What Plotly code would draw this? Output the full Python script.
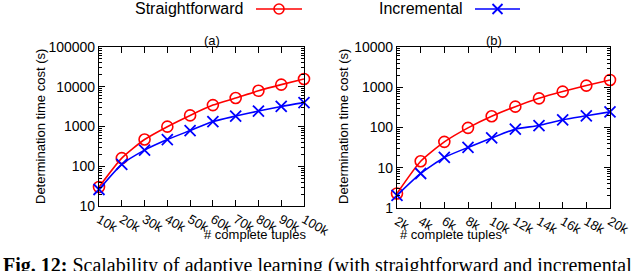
import plotly.graph_objects as go

W, H = 640, 271

# ---- data ----
x_a = [10, 20, 30, 40, 50, 60, 70, 80, 90, 100]
x_a_labels = ["10k", "20k", "30k", "40k", "50k", "60k", "70k", "80k", "90k", "100k"]
straight_a = [30, 160, 470, 990, 1900, 3450, 5200, 7900, 11300, 15700]
incr_a = [26, 112, 255, 470, 790, 1330, 1830, 2450, 3200, 4000]

x_b = [2, 4, 6, 8, 10, 12, 14, 16, 18, 20]
x_b_labels = ["2k", "4k", "6k", "8k", "10k", "12k", "14k", "16k", "18k", "20k"]
straight_b = [2.3, 14.5, 44, 98, 190, 330, 530, 780, 1100, 1520]
incr_b = [2.05, 7.2, 18, 32, 55, 91, 112, 155, 195, 245]

series_names = ["Straightforward", "Incremental"]
panel_titles = ["(a)", "(b)"]
x_title = "# complete tuples"
y_title = "Determination time cost (s)"
caption_bold = "Fig. 12:"
caption_rest = " Scalability of adaptive learning (with straightforward and incremental"

RED = "#ff0000"
BLUE = "#0000ff"
FONT = "Liberation Sans"


def px(x):
    return x / W


def py(y):
    return 1 - y / H


fig = go.Figure()

panels = [
    (x_a, straight_a, incr_a, "x", "y"),
    (x_b, straight_b, incr_b, "x2", "y2"),
]
for xs, s, inc, xa, ya in panels:
    fig.add_trace(go.Scatter(
        x=xs, y=s, xaxis=xa, yaxis=ya, mode="lines+markers",
        line=dict(color=RED, width=1.6, shape="spline", smoothing=0.6),
        marker=dict(symbol="circle-open", size=11, color=RED, line=dict(width=1.6, color=RED)),
        cliponaxis=False, showlegend=False, name=series_names[0]))
    fig.add_trace(go.Scatter(
        x=xs, y=inc, xaxis=xa, yaxis=ya, mode="lines+markers",
        line=dict(color=BLUE, width=1.6, shape="spline", smoothing=0.6),
        marker=dict(symbol="x-thin-open", size=11, color=BLUE, line=dict(width=1.8, color=BLUE)),
        cliponaxis=False, showlegend=False, name=series_names[1]))

axis_common = dict(
    showline=True, linecolor="black", linewidth=1.2, mirror="ticks",
    ticks="inside", ticklen=6, tickcolor="black", tickwidth=1,
    showgrid=False, zeroline=False, automargin=False,
)
xtickfont = dict(family=FONT, size=13, color="black")
ytickfont = dict(family=FONT, size=14, color="black")

fig.update_layout(
    template="none",
    width=W, height=H, margin=dict(l=0, r=0, t=0, b=0, pad=0, autoexpand=False),
    paper_bgcolor="white", plot_bgcolor="white",
    font=dict(family=FONT, color="black"),
    xaxis=dict(domain=[px(99), px(304)], range=[10, 100], tickvals=x_a,
               ticktext=x_a_labels, tickangle=30, anchor="y", tickfont=xtickfont,
               **axis_common),
    yaxis=dict(domain=[py(206), py(47)], type="log", range=[1, 5], dtick=1,
               tickformat="d", anchor="x", tickfont=ytickfont,
               minor=dict(ticks="inside", ticklen=3, tickcolor="black", dtick="D1"),
               **axis_common),
    xaxis2=dict(domain=[px(397), px(610)], range=[2, 20], tickvals=x_b,
                ticktext=x_b_labels, tickangle=30, anchor="y2", tickfont=xtickfont,
                **axis_common),
    yaxis2=dict(domain=[py(208), py(47)], type="log", range=[0, 4], dtick=1,
                tickformat="d", anchor="x2", tickfont=ytickfont,
                minor=dict(ticks="inside", ticklen=3, tickcolor="black", dtick="D1"),
                **axis_common),
)

ann = []
# panel titles
for cx, t in [((99 + 304) / 2, panel_titles[0]), ((397 + 610) / 2, panel_titles[1])]:
    ann.append(dict(x=px(cx), y=py(41), xref="paper", yref="paper", text=t,
                    showarrow=False, font=dict(family=FONT, size=13), yanchor="middle"))
# x titles
for cx in [(99 + 304) / 2, (397 + 610) / 2]:
    ann.append(dict(x=px(cx + 0), y=py(234), xref="paper", yref="paper", text=x_title,
                    showarrow=False, font=dict(family=FONT, size=13), yanchor="middle"))
# y titles
for cx, cy in [(40, 127), (343, 127)]:
    ann.append(dict(x=px(cx), y=py(cy), xref="paper", yref="paper", text=y_title,
                    textangle=-90, showarrow=False, font=dict(family=FONT, size=13),
                    xanchor="center", yanchor="middle"))
# legend labels
ann.append(dict(x=px(246), y=py(9), xref="paper", yref="paper", text=series_names[0],
                showarrow=False, xanchor="right", yanchor="middle",
                font=dict(family=FONT, size=16)))
ann.append(dict(x=px(465), y=py(9), xref="paper", yref="paper", text=series_names[1],
                showarrow=False, xanchor="right", yanchor="middle",
                font=dict(family=FONT, size=16)))
# caption
ann.append(dict(x=px(1), y=py(252), xref="paper", yref="paper",
                text="<b>" + caption_bold + "</b>" + caption_rest,
                showarrow=False, xanchor="left", yanchor="top", align="left",
                font=dict(family="Liberation Serif", size=20, color="black")))
fig.update_layout(annotations=ann)

# legend samples (decoration)
shapes = []
shapes.append(dict(type="line", xref="paper", yref="paper", x0=px(256), x1=px(302),
                   y0=py(9), y1=py(9), line=dict(color=RED, width=1.6)))
shapes.append(dict(type="circle", xref="paper", yref="paper", x0=px(274), x1=px(284),
                   y0=py(14), y1=py(4), line=dict(color=RED, width=1.6)))
shapes.append(dict(type="line", xref="paper", yref="paper", x0=px(475), x1=px(520),
                   y0=py(9), y1=py(9), line=dict(color=BLUE, width=1.6)))
shapes.append(dict(type="line", xref="paper", yref="paper", x0=px(492.5), x1=px(502.5),
                   y0=py(14), y1=py(4), line=dict(color=BLUE, width=1.8)))
shapes.append(dict(type="line", xref="paper", yref="paper", x0=px(492.5), x1=px(502.5),
                   y0=py(4), y1=py(14), line=dict(color=BLUE, width=1.8)))
fig.update_layout(shapes=shapes)

fig.write_html("out.html", config={"displayModeBar": False},
               post_script="document.body.style.margin='0';document.body.style.overflow='hidden';")
